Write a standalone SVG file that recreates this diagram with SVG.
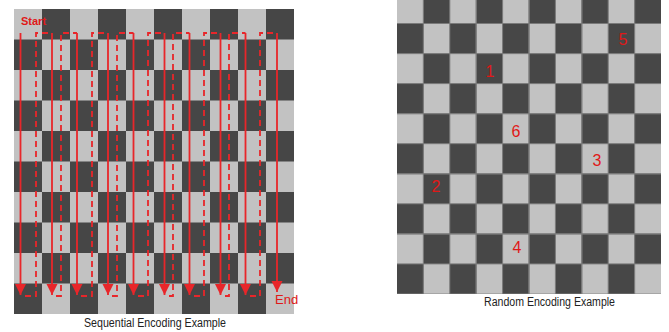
<svg xmlns="http://www.w3.org/2000/svg" width="669" height="332" viewBox="0 0 669 332">
  <style>
    .cap { font-family: "Liberation Sans", Arial, sans-serif; font-size: 12px; fill: #222; }
    .num { font-family: "Liberation Sans", Arial, sans-serif; font-size: 16px; fill: #e01818; text-anchor: middle; }
    .lbl { font-family: "Liberation Sans", Arial, sans-serif; fill: #e01818; }
    .down { fill: none; stroke: #e8262a; stroke-width: 1.8; }
    .up { fill: none; stroke: #e8262a; stroke-width: 1.8; stroke-dasharray: 6 4; }
    .grid { stroke: #7a7a7a; stroke-width: 1; }
  </style>
  <defs>
    <pattern id="seqBoard" patternUnits="userSpaceOnUse" x="14" y="9" width="56" height="61">
      <rect x="0" y="0" width="56" height="61" fill="#c2c2c2"/>
      <rect x="28" y="0" width="28" height="30.5" fill="#464646"/>
      <rect x="0" y="30.5" width="28" height="30.5" fill="#464646"/>
    </pattern>
    <pattern id="rndBoard" patternUnits="userSpaceOnUse" x="397" y="23.5" width="52.8" height="60.12">
      <rect x="0" y="0" width="52.8" height="60.12" fill="#c2c2c2"/>
      <rect x="0" y="0" width="26.4" height="30.06" fill="#474747"/>
      <rect x="26.4" y="30.06" width="26.4" height="30.06" fill="#474747"/>
    </pattern>
    <marker id="arrow" markerUnits="userSpaceOnUse" markerWidth="12" markerHeight="12" refX="11" refY="5.5" orient="auto">
      <path d="M0,0 L11,5.5 L0,11 z" fill="#e8262a"/>
    </marker>
  </defs>
  <rect width="669" height="332" fill="#ffffff"/>

  <g id="sequential-board">
    <rect x="14" y="9" width="280" height="305" fill="url(#seqBoard)"/>
    <text class="lbl" x="21" y="25" font-size="11" font-weight="bold">Start</text>
    <text class="lbl" x="275" y="304" font-size="13">End</text>
  </g>

  <g id="connectors">
    <path class="down" d="M20.5,33 V295" marker-end="url(#arrow)"/>
    <path class="up" d="M25,296 H36 V33 H52"/>
    <path class="down" d="M52,33 V295" marker-end="url(#arrow)"/>
    <path class="up" d="M56,296 H61 V33 H77"/>
    <path class="down" d="M77,33 V295" marker-end="url(#arrow)"/>
    <path class="up" d="M81,296 H92 V33 H108"/>
    <path class="down" d="M108,33 V295" marker-end="url(#arrow)"/>
    <path class="up" d="M112,296 H117 V33 H133.5"/>
    <path class="down" d="M133.5,33 V295" marker-end="url(#arrow)"/>
    <path class="up" d="M138,296 H148 V33 H164.5"/>
    <path class="down" d="M164.5,33 V295" marker-end="url(#arrow)"/>
    <path class="up" d="M169,296 H173 V33 H189.5"/>
    <path class="down" d="M189.5,33 V295" marker-end="url(#arrow)"/>
    <path class="up" d="M194,296 H204 V33 H220.5"/>
    <path class="down" d="M220.5,33 V295" marker-end="url(#arrow)"/>
    <path class="up" d="M225,296 H229 V33 H245.5"/>
    <path class="down" d="M245.5,33 V295" marker-end="url(#arrow)"/>
    <path class="up" d="M250,296 H260 V33 H277"/>
    <path class="down" d="M277,33 V292" marker-end="url(#arrow)"/>
  </g>

  <g id="random-board">
    <rect x="397" y="0" width="264" height="294" fill="url(#rndBoard)"/>
    <g class="grid">
      <line x1="423.4" y1="0" x2="423.4" y2="294"/>
      <line x1="449.8" y1="0" x2="449.8" y2="294"/>
      <line x1="476.2" y1="0" x2="476.2" y2="294"/>
      <line x1="502.6" y1="0" x2="502.6" y2="294"/>
      <line x1="529" y1="0" x2="529" y2="294"/>
      <line x1="555.4" y1="0" x2="555.4" y2="294"/>
      <line x1="581.8" y1="0" x2="581.8" y2="294"/>
      <line x1="608.2" y1="0" x2="608.2" y2="294"/>
      <line x1="634.6" y1="0" x2="634.6" y2="294"/>
      <line x1="397" y1="23.5" x2="661" y2="23.5"/>
      <line x1="397" y1="53.6" x2="661" y2="53.6"/>
      <line x1="397" y1="83.6" x2="661" y2="83.6"/>
      <line x1="397" y1="113.7" x2="661" y2="113.7"/>
      <line x1="397" y1="143.7" x2="661" y2="143.7"/>
      <line x1="397" y1="173.8" x2="661" y2="173.8"/>
      <line x1="397" y1="203.8" x2="661" y2="203.8"/>
      <line x1="397" y1="233.9" x2="661" y2="233.9"/>
      <line x1="397" y1="263.9" x2="661" y2="263.9"/>
    </g>
    <text class="num" x="623" y="45">5</text>
    <text class="num" x="490" y="77">1</text>
    <text class="num" x="516" y="137">6</text>
    <text class="num" x="597" y="166">3</text>
    <text class="num" x="436" y="192">2</text>
    <text class="num" x="517" y="253">4</text>
  </g>

  <g id="captions">
    <text class="cap" x="84" y="327" textLength="142" lengthAdjust="spacingAndGlyphs">Sequential Encoding Example</text>
    <text class="cap" x="484" y="306" textLength="131" lengthAdjust="spacingAndGlyphs">Random Encoding Example</text>
  </g>
</svg>
